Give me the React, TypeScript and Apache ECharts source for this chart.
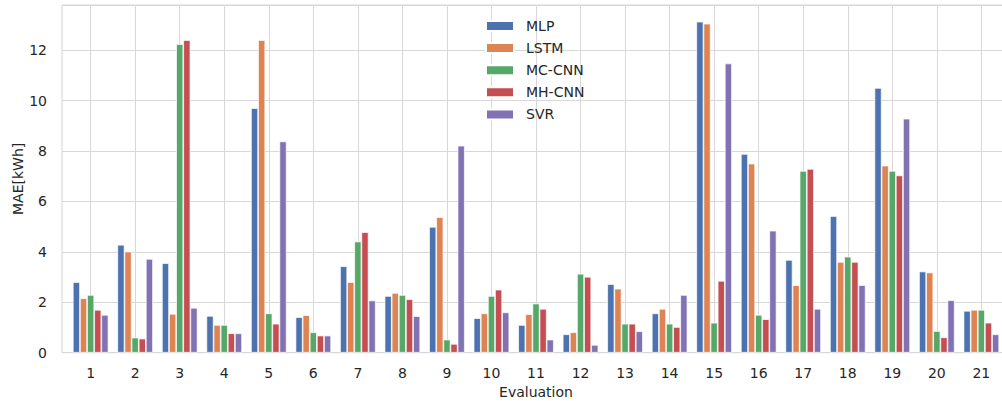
import React, { useEffect, useRef } from "react";
import * as echarts from "echarts";

const categories = [1, 2, 3, 4, 5, 6, 7, 8, 9, 10, 11, 12, 13, 14, 15, 16, 17, 18, 19, 20, 21];
const seriesNames = ["MLP", "LSTM", "MC-CNN", "MH-CNN", "SVR"];
const mlp = [2.8, 4.28, 3.55, 1.46, 9.7, 1.41, 3.43, 2.25, 4.99, 1.37, 1.1, 0.73, 2.72, 1.56, 13.13, 7.88, 3.68, 5.42, 10.5, 3.22, 1.66];
const lstm = [2.16, 4.01, 1.54, 1.1, 12.4, 1.49, 2.8, 2.37, 5.38, 1.56, 1.53, 0.81, 2.54, 1.74, 13.05, 7.5, 2.68, 3.6, 7.42, 3.18, 1.7];
const mcCnn = [2.29, 0.6, 12.24, 1.1, 1.56, 0.81, 4.41, 2.29, 0.52, 2.25, 1.95, 3.13, 1.15, 1.15, 1.19, 1.5, 7.21, 3.81, 7.21, 0.86, 1.7];
const mhCnn = [1.7, 0.56, 12.4, 0.77, 1.15, 0.68, 4.78, 2.12, 0.35, 2.5, 1.74, 3.01, 1.15, 1.02, 2.85, 1.33, 7.29, 3.6, 7.03, 0.61, 1.19];
const svr = [1.5, 3.72, 1.78, 0.77, 8.38, 0.68, 2.07, 1.45, 8.21, 1.6, 0.52, 0.31, 0.85, 2.29, 11.47, 4.84, 1.74, 2.68, 9.28, 2.08, 0.73];
const colors = ["#4C72B0", "#DD8452", "#55A868", "#C44E52", "#8172B3"];
const yTicks = [0, 2, 4, 6, 8, 10, 12];

export default function App() {
  const ref = useRef<HTMLDivElement>(null);
  useEffect(() => {
    if (!ref.current) return;
    const chart = echarts.init(ref.current, null, { renderer: "svg" });
    const allSeries = [mlp, lstm, mcCnn, mhCnn, svr];
    const font = "DejaVu Sans";
    const gridColor = "#d8d8d8";
    chart.setOption({
      animation: false,
      backgroundColor: "#ffffff",
      textStyle: { fontFamily: font },
      grid: {
        left: 62,
        right: -8,
        top: 5,
        bottom: 48.3,
        show: true,
        containLabel: false,
        outerBoundsMode: "none",
        borderColor: "#d4d4d4",
        borderWidth: 1,
        backgroundColor: "transparent",
        z: 0,
      },
      legend: {
        orient: "vertical",
        left: 485,
        top: 18,
        padding: 0,
        itemWidth: 28,
        itemHeight: 10,
        itemGap: 6.1,
        icon: "rect",
        data: seriesNames,
        textStyle: { fontFamily: font, fontSize: 14, color: "#262626", lineHeight: 16, padding: [0, 0, 0, 7] },
      },
      xAxis: {
        type: "value",
        min: 0.357,
        max: 21.643,
        name: "Evaluation",
        nameLocation: "middle",
        nameGap: 32,
        nameTextStyle: { fontFamily: font, fontSize: 14, color: "#262626" },
        axisLine: { show: false },
        axisTick: { show: false, customValues: categories },
        axisLabel: {
          fontFamily: font,
          fontSize: 14,
          color: "#262626",
          margin: 13,
          customValues: categories,
        },
        splitLine: { show: false },
      },
      yAxis: {
        type: "value",
        min: 0,
        max: 13.79,
        interval: 2,
        name: "MAE[kWh]",
        nameLocation: "middle",
        nameGap: 37,
        nameMoveOverlap: false,
        nameTextStyle: { fontFamily: font, fontSize: 14, color: "#262626" },
        axisLine: { show: false },
        axisTick: { show: false },
        axisLabel: {
          fontFamily: font,
          fontSize: 14,
          color: "#262626",
          margin: 15,
          showMaxLabel: false,
          formatter: (v: number) => (yTicks.includes(v) ? String(v) : ""),
        },
        splitLine: { show: true, lineStyle: { color: gridColor, width: 1 } },
      },
      series: [
        {
          name: "__grid",
          type: "line",
          data: [],
          z: 0,
          silent: true,
          markLine: {
            silent: true,
            z: 0,
            symbol: "none",
            label: { show: false },
            emphasis: { disabled: true },
            lineStyle: { color: gridColor, width: 1, type: "solid" },
            data: categories.map((c) => ({ xAxis: c })),
          },
        },
        ...seriesNames.map((name, i) => ({
          name,
          type: "bar",
          barWidth: 7.12,
          barGap: "0%",
          z: 3,
          itemStyle: { color: colors[i], borderColor: "#ffffff", borderWidth: 0.7 },
          data: categories.map((c, j) => [c, allSeries[i][j]]),
        })),
      ],
    });
    return () => chart.dispose();
  }, []);
  return (
    <div
      ref={ref}
      style={{ position: "fixed", left: 0, top: 0, width: 1002, height: 401 }}
    />
  );
}
